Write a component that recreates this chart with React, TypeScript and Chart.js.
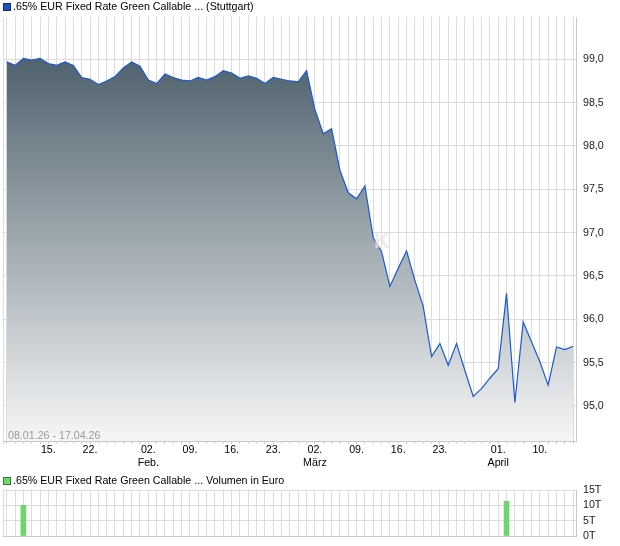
import React, { useEffect, useRef } from 'react';
import { Chart, registerables } from 'chart.js';

Chart.register(...registerables);

// Trading days shown on the x axis (index 0 .. 68)
const tradingDays: string[] = [
  '08.01.', '09.01.', '12.01.', '13.01.', '14.01.', '15.01.', '16.01.', '19.01.', '20.01.', '21.01.',
  '22.01.', '23.01.', '26.01.', '27.01.', '28.01.', '29.01.', '30.01.',
  '02.02.', '03.02.', '04.02.', '05.02.', '06.02.', '09.02.', '10.02.', '11.02.', '12.02.', '13.02.',
  '16.02.', '17.02.', '18.02.', '19.02.', '20.02.', '23.02.', '24.02.', '25.02.', '26.02.', '27.02.',
  '02.03.', '03.03.', '04.03.', '05.03.', '06.03.', '09.03.', '10.03.', '11.03.', '12.03.', '13.03.',
  '16.03.', '17.03.', '18.03.', '19.03.', '20.03.', '23.03.', '24.03.', '25.03.', '26.03.', '27.03.',
  '30.03.', '31.03.',
  '01.04.', '02.04.', '07.04.', '08.04.', '09.04.', '10.04.', '13.04.', '14.04.', '15.04.', '16.04.',
];

// Closing prices (Stuttgart)
const prices: number[] = [
  98.97, 98.93, 99.01, 98.99, 99.01, 98.95, 98.93, 98.97, 98.93, 98.79,
  98.77, 98.71, 98.75, 98.80, 98.90, 98.97, 98.92,
  98.76, 98.72, 98.83, 98.79, 98.76, 98.75, 98.79, 98.76, 98.80, 98.87,
  98.84, 98.78, 98.81, 98.78, 98.72, 98.79, 98.77, 98.75, 98.74, 98.87,
  98.42, 98.14, 98.20, 97.72, 97.46, 97.39, 97.54, 96.94, 96.78, 96.38,
  96.59, 96.79, 96.45, 96.15, 95.57, 95.72, 95.47, 95.72, 95.41, 95.11,
  95.20, 95.32,
  95.43, 96.30, 95.04, 95.97, 95.74, 95.51, 95.24, 95.68, 95.65, 95.69,
];

// Labelled x ticks
const xTickDates: string[] = ['15.01.', '22.01.', '02.02.', '09.02.', '16.02.', '23.02.', '02.03.', '09.03.', '16.03.', '23.03.', '01.04.', '10.04.'];
const xTickTexts: string[][] = [
  ['15.'], ['22.'], ['02.', 'Feb.'], ['09.'], ['16.'], ['23.'], ['02.', 'März'], ['09.'], ['16.'], ['23.'], ['01.', 'April'], ['10.'],
];

const priceTicks: number[] = [95.0, 95.5, 96.0, 96.5, 97.0, 97.5, 98.0, 98.5, 99.0];

// Volume (Euro)
const volumeDates: string[] = ['12.01.', '02.04.'];
const volumeValues: number[] = [10000, 11300];
const volumeTicks: number[] = [0, 5000, 10000, 15000];

const FONT_FAMILY = '"Liberation Sans", Arial, sans-serif';
const FONT_SIZE = 10.67;
const GRID = '#dcdcdc';
const BORDER = '#c8c8c8';
const LINE_BLUE = '#1a5ad0';

const X_MIN = -0.444;
const X_MAX = 68.34;

function dayTicks(scale: any) {
  const t: any[] = [{ value: X_MIN }];
  tradingDays.forEach((_, i) => t.push({ value: i }));
  scale.ticks = t;
}

function xLabel(v: number): string | string[] {
  const d = tradingDays[v as number];
  if (d === undefined) return '';
  const k = xTickDates.indexOf(d);
  if (k < 0) return '';
  const t = xTickTexts[k];
  return t.length === 1 ? t[0] : t;
}

export default function App() {
  const mainRef = useRef<HTMLCanvasElement>(null);
  const volRef = useRef<HTMLCanvasElement>(null);

  useEffect(() => {
    const font = { family: FONT_FAMILY, size: FONT_SIZE };
    const main = new Chart(mainRef.current as HTMLCanvasElement, {
      type: 'line',
      data: {
        datasets: [
          {
            data: prices.map((p, i) => ({ x: i, y: p })),
            borderColor: LINE_BLUE,
            borderWidth: 1.2,
            pointRadius: 0,
            tension: 0,
            fill: 'start',
            backgroundColor: (c: any) => {
              const chart = c.chart;
              const area = chart.chartArea;
              if (!area) return 'rgba(0,0,0,0)';
              const y0 = chart.scales.y.getPixelForValue(99.0);
              const g = chart.ctx.createLinearGradient(0, y0, 0, area.bottom);
              g.addColorStop(0, 'rgb(80,98,110)');
              g.addColorStop(0.5, 'rgb(163,173,179)');
              g.addColorStop(1, 'rgb(246,246,247)');
              return g;
            },
          },
        ],
      },
      options: {
        animation: false,
        responsive: false,
        maintainAspectRatio: false,
        layout: { padding: { top: 17, left: 3, right: 0, bottom: 0 } },
        plugins: { legend: { display: false }, tooltip: { enabled: false }, title: { display: false } },
        scales: {
          x: {
            type: 'linear',
            min: X_MIN,
            max: X_MAX,
            offset: false,
            afterBuildTicks: dayTicks,
            afterFit: (s: any) => { s.height = 29; },
            ticks: {
              autoSkip: false,
              maxRotation: 0,
              minRotation: 0,
              padding: 0,
              color: '#000',
              font,
              callback: (v: any) => xLabel(v),
            },
            grid: { color: GRID, drawTicks: true, tickLength: 3, tickColor: '#cfcfcf' },
            border: { color: BORDER },
          },
          y: {
            position: 'right',
            min: 94.596,
            max: 99.488,
            afterBuildTicks: (s: any) => { s.ticks = priceTicks.map((v) => ({ value: v })); },
            afterFit: (s: any) => { s.width = 44; },
            ticks: {
              autoSkip: false,
              padding: 0,
              color: '#222',
              font,
              callback: (v: any) => Number(v).toFixed(1).replace('.', ','),
            },
            grid: { color: GRID, drawTicks: true, tickLength: 7, tickColor: 'rgba(0,0,0,0)' },
            border: { color: BORDER },
          },
        },
      },
    } as any);

    const vol = new Chart(volRef.current as HTMLCanvasElement, {
      type: 'bar',
      data: {
        datasets: [
          {
            data: volumeDates.map((d, k) => ({ x: tradingDays.indexOf(d), y: volumeValues[k] })),
            backgroundColor: '#6dd66d',
            borderWidth: 0,
            barThickness: 5,
          },
        ],
      },
      options: {
        animation: false,
        responsive: false,
        maintainAspectRatio: false,
        layout: { padding: { top: 20, left: 3, right: 0, bottom: 0 } },
        plugins: { legend: { display: false }, tooltip: { enabled: false } },
        scales: {
          x: {
            type: 'linear',
            min: X_MIN,
            max: X_MAX,
            offset: false,
            afterBuildTicks: dayTicks,
            afterFit: (s: any) => { s.height = 10; },
            ticks: { display: false, autoSkip: false },
            grid: { color: GRID, drawTicks: false, offset: false },
            border: { color: BORDER },
          },
          y: {
            position: 'right',
            min: 0,
            max: 15000,
            beginAtZero: true,
            afterBuildTicks: (s: any) => { s.ticks = volumeTicks.map((v) => ({ value: v })); },
            afterFit: (s: any) => { s.width = 44; },
            ticks: {
              autoSkip: false,
              padding: 0,
              color: '#222',
              font,
              callback: (v: any) => Math.round(Number(v) / 1000) + 'T',
            },
            grid: { color: GRID, drawTicks: true, tickLength: 7, tickColor: 'rgba(0,0,0,0)' },
            border: { color: BORDER },
          },
        },
      },
    } as any);

    return () => {
      main.destroy();
      vol.destroy();
    };
  }, []);

  const textStyle: React.CSSProperties = {
    position: 'absolute',
    fontFamily: FONT_FAMILY,
    fontSize: FONT_SIZE,
    lineHeight: '12px',
    whiteSpace: 'nowrap',
    color: '#000',
  };

  return (
    <div style={{ position: 'absolute', left: 0, top: 0, width: 620, height: 546, background: '#fff', overflow: 'hidden' }}>
      <canvas ref={mainRef} width={620} height={470} style={{ position: 'absolute', left: 0, top: 0, width: 620, height: 470 }} />
      <canvas ref={volRef} width={620} height={76} style={{ position: 'absolute', left: 0, top: 470, width: 620, height: 76 }} />

      <div style={{ position: 'absolute', left: 374, top: 230, fontFamily: FONT_FAMILY, fontSize: 22, fontWeight: 'bold', lineHeight: '22px', color: 'rgba(236,228,220,0.75)' }}>K</div>

      <div style={{ position: 'absolute', left: 3, top: 3, width: 6, height: 6, background: '#1d54c0', border: '1px solid #0d2f7a' }} />
      <div style={{ ...textStyle, left: 13, top: 0 }}>.65% EUR Fixed Rate Green Callable ... (Stuttgart)</div>

      <div style={{ ...textStyle, left: 8, top: 429, color: '#9a9a9a' }}>08.01.26 - 17.04.26</div>

      <div style={{ position: 'absolute', left: 3, top: 477, width: 6, height: 6, background: '#6dd66d', border: '1px solid #2f7f2f' }} />
      <div style={{ ...textStyle, left: 13, top: 474 }}>.65% EUR Fixed Rate Green Callable ... Volumen in Euro</div>
    </div>
  );
}
